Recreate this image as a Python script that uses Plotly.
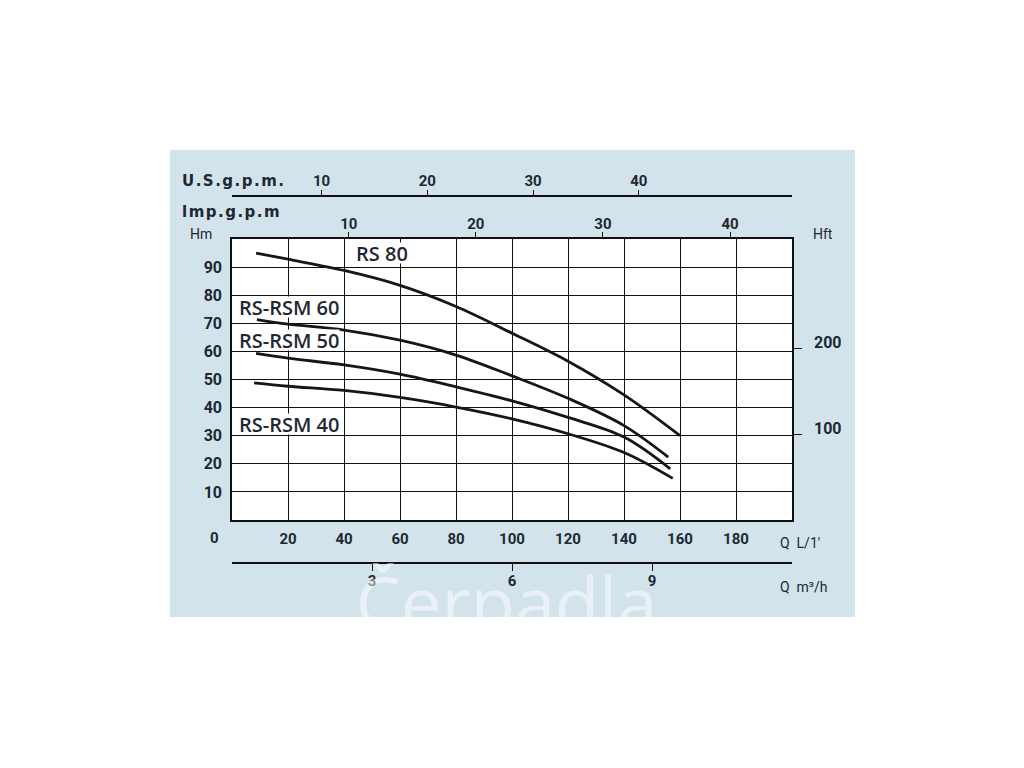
import plotly.graph_objects as go

# ---- data (Q in L/min, H in m) ----
q_rs80 = [8.6, 20, 40, 60, 80, 100, 120, 140, 160]
h_rs80 = [95.0, 92.8, 88.8, 83.5, 76.0, 66.5, 56.5, 44.5, 30.0]
q_rsm60 = [8.9, 20, 40, 60, 80, 100, 120, 140, 155.8]
h_rsm60 = [71.3, 69.7, 67.6, 64.0, 58.7, 51.3, 43.3, 33.6, 22.4]
q_rsm50 = [8.6, 20, 40, 60, 80, 100, 120, 140, 156.5]
h_rsm50 = [59.3, 57.6, 55.2, 51.9, 47.4, 42.4, 36.5, 29.5, 18.2]
q_rsm40 = [7.9, 20, 40, 60, 80, 100, 120, 140, 157.4]
h_rsm40 = [48.8, 47.6, 46.1, 43.6, 40.2, 36.0, 30.7, 24.0, 14.8]

series_names = ["RS 80", "RS-RSM 60", "RS-RSM 50", "RS-RSM 40"]
label_pos_q = [53.6, 20.2, 20.2, 20.2]
label_pos_h = [95.0, 75.8, 64.1, 34.3]

q_ticks = [20, 40, 60, 80, 100, 120, 140, 160, 180]
h_ticks = [10, 20, 30, 40, 50, 60, 70, 80, 90]
usgpm_ticks = [10, 20, 30, 40]
usgpm_range = [1.53, 54.48]
impgpm_ticks = [10, 20, 30, 40]
impgpm_range = [0.815, 44.87]
m3h_ticks = [3, 6, 9]
m3h_range = [0, 12]
hft_ticks = [100, 200]
hft_range = [0, 100 / 0.3048]

watermark = "Čerpadla"

TXT = "#1e2832"
BG = "#d3e3ec"
NUMFONT = dict(family="Roboto", size=15, color=TXT, weight="bold")
HS = "\u200a"  # hair space for letter spacing

# screen-pixel helpers (page has an 8 px body margin)
PLOT_TOP, PLOT_BOT = 170, 617   # screen y of paper top / bottom
def px_x(px):
    return (px - 232) / 560.0

def px_y(py):
    return (PLOT_BOT - py) / float(PLOT_BOT - PLOT_TOP)

fig = go.Figure()
for q, h in [(q_rs80, h_rs80), (q_rsm60, h_rsm60), (q_rsm50, h_rsm50), (q_rsm40, h_rsm40)]:
    fig.add_trace(go.Scatter(x=q, y=h, mode="lines",
                             line=dict(color="#161616", width=2.8, shape="spline", smoothing=1.0),
                             showlegend=False, hoverinfo="skip"))

# invisible traces so the secondary axes are registered
fig.add_trace(go.Scatter(x=usgpm_ticks, y=[0] * 4, xaxis="x2", yaxis="y", mode="markers",
                         marker=dict(opacity=0), showlegend=False, hoverinfo="skip"))
fig.add_trace(go.Scatter(x=impgpm_ticks, y=[0] * 4, xaxis="x3", yaxis="y", mode="markers",
                         marker=dict(opacity=0), showlegend=False, hoverinfo="skip"))
fig.add_trace(go.Scatter(x=m3h_ticks, y=[0] * 3, xaxis="x4", yaxis="y", mode="markers",
                         marker=dict(opacity=0), showlegend=False, hoverinfo="skip"))
fig.add_trace(go.Scatter(x=[0, 0], y=hft_ticks, xaxis="x", yaxis="y2", mode="markers",
                         marker=dict(opacity=0), showlegend=False, hoverinfo="skip"))
# faint watermark, clipped at the bottom of the panel (own hidden axes)
fig.add_trace(go.Scatter(x=[98], y=[0.11], xaxis="x5", yaxis="y3", mode="text",
                         text=[watermark], textposition="middle center", cliponaxis=True,
                         textfont=dict(family="Open Sans", size=72, color="rgba(255,255,255,0.5)"),
                         showlegend=False, hoverinfo="skip"))

y_dom = [px_y(520), px_y(239)]

fig.update_layout(
    width=1016, height=760,
    margin=dict(l=224, r=232, t=PLOT_TOP - 8, b=760 - (PLOT_BOT - 8), pad=0),
    paper_bgcolor="white", plot_bgcolor="rgba(0,0,0,0)",
    showlegend=False,
    xaxis=dict(range=[0, 200], tickvals=q_ticks, showgrid=True, gridcolor="#111", gridwidth=1,
               showline=True, mirror=True, linecolor="#111", linewidth=1.5, ticks="",
               zeroline=False, tickfont=NUMFONT, ticklabelstandoff=4, anchor="y"),
    yaxis=dict(range=[0, 100], domain=y_dom, tickvals=h_ticks, showgrid=True, gridcolor="#111",
               gridwidth=1, showline=True, mirror=True, linecolor="#111", linewidth=1.5, ticks="",
               zeroline=False, tickfont=dict(family="Roboto", size=16, color=TXT, weight="bold"),
               ticklabelstandoff=5, anchor="x"),
    xaxis2=dict(range=usgpm_range, tickvals=usgpm_ticks, overlaying="x", anchor="free",
                position=px_y(196), side="top", showline=True, linecolor="#111", linewidth=1.5,
                ticks="outside", ticklen=5, tickcolor="#111", showgrid=False, zeroline=False,
                tickfont=NUMFONT, ticklabelstandoff=-2),
    xaxis3=dict(range=impgpm_range, tickvals=impgpm_ticks, overlaying="x", anchor="y",
                side="top", showline=False, ticks="outside", ticklen=6, tickcolor="#111",
                showgrid=False, zeroline=False, tickfont=NUMFONT, ticklabelstandoff=-3),
    xaxis4=dict(range=m3h_range, tickvals=m3h_ticks, overlaying="x", anchor="free",
                position=px_y(563), side="bottom", showline=True, linecolor="#111", linewidth=1.5,
                ticks="outside", ticklen=7, tickcolor="#111", showgrid=False, zeroline=False,
                tickfont=NUMFONT, ticklabelstandoff=-3),
    xaxis5=dict(range=[0, 200], domain=[0, 1], anchor="y3", visible=False, showgrid=False,
                zeroline=False, fixedrange=True),
    yaxis2=dict(range=hft_range, tickvals=hft_ticks, overlaying="y", side="right", anchor="x",
                showline=False, ticks="outside", ticklen=9, tickcolor="#111", showgrid=False,
                zeroline=False, showticklabels=False),
    yaxis3=dict(range=[0, 1], domain=[0, px_y(563)], anchor="x5", visible=False,
                showgrid=False, zeroline=False, fixedrange=True),
)

# light blue panel and white plotting area
fig.add_shape(type="rect", xref="paper", yref="paper", x0=px_x(170), x1=px_x(855), y0=0,
              y1=px_y(150), fillcolor=BG, line=dict(width=0), layer="below")
fig.add_shape(type="rect", xref="paper", yref="paper", x0=0, x1=1, y0=y_dom[0],
              y1=y_dom[1], fillcolor="white", line=dict(width=0), layer="below")

def spaced(s):
    return HS.join(list(s))

ann = []
# curve labels
for name, q, h in zip(series_names, label_pos_q, label_pos_h):
    ann.append(dict(x=q, y=h, xref="x", yref="y", text=name, showarrow=False,
                    xanchor="center", yanchor="middle",
                    font=dict(family="Open Sans", size=20, color=TXT, weight=600),
                    bgcolor="white", height=20, borderpad=0))

# right-hand Hft tick labels (sit slightly above their ticks, as in the original)
for v in hft_ticks:
    ann.append(dict(x=px_x(828), y=v, xref="paper", yref="y2", text=str(v), showarrow=False,
                    xanchor="center", yanchor="middle", yshift=6,
                    font=dict(family="Roboto", size=16, color=TXT, weight="bold")))

def pann(px, py, text, font, xanchor="center"):
    return dict(x=px_x(px), y=px_y(py), xref="paper", yref="paper", xanchor=xanchor,
                yanchor="middle", text=text, showarrow=False, font=font)

TITLEFONT = dict(family="DejaVu Sans", size=15, color=TXT, weight="bold")
SMALLFONT = dict(family="Roboto", size=14, color=TXT)
ann += [
    pann(180, 181, spaced("U.S.g.p.m."), TITLEFONT, "left"),
    pann(180, 212, spaced("lmp.g.p.m"), TITLEFONT, "left"),
    pann(201, 234, "Hm", SMALLFONT),
    pann(823, 234, "Hft", SMALLFONT),
    pann(214, 538, "0", NUMFONT),
    pann(778, 543, "Q  L/1'", SMALLFONT, "left"),
    pann(778, 587, "Q  m³/h", SMALLFONT, "left"),
]
fig.update_layout(annotations=ann)

fig.write_html("out.html")
